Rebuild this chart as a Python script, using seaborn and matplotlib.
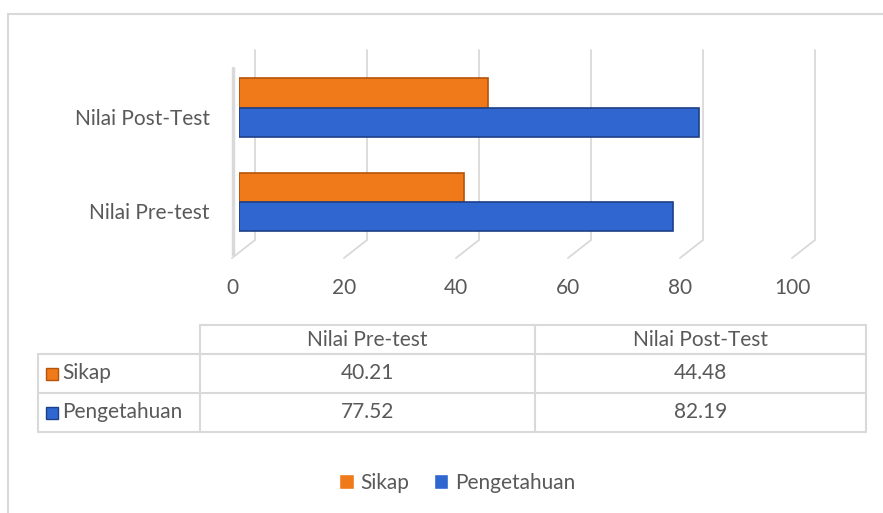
import numpy as np
import pandas as pd
import matplotlib
matplotlib.use('Agg')
import matplotlib.pyplot as plt
import seaborn as sns
from matplotlib.lines import Line2D
from matplotlib.transforms import ScaledTranslation

# data
kategori = ['Nilai Pre-test', 'Nilai Post-Test']
seri = ['Sikap', 'Pengetahuan']
sikap = [40.21, 44.48]
pengetahuan = [77.52, 82.19]
x_ticks = [0, 20, 40, 60, 80, 100]

warna = {'Sikap': '#F07A1A', 'Pengetahuan': '#2F66CF'}
tepi = {'Sikap': '#B4540C', 'Pengetahuan': '#1D3F88'}
abu = '#595959'
garis = '#D9D9D9'
fs = 15

df = pd.DataFrame({
    'kategori': kategori * 2,
    'seri': ['Sikap'] * 2 + ['Pengetahuan'] * 2,
    'nilai': sikap + pengetahuan,
})

sns.set_style('white')
plt.rcParams['font.family'] = ['Lato', 'DejaVu Sans']

W, H = 883, 513
fig = plt.figure(figsize=(W / 100, H / 100), dpi=100)

# chart area border (top and left only visible)
fig.add_artist(Line2D([8 / W, 8 / W], [0, 1 - 14 / H], color=garis, lw=1.5))
fig.add_artist(Line2D([8 / W, 1], [1 - 14 / H, 1 - 14 / H], color=garis, lw=1.5))

ax = fig.add_axes([239 / W, 1 - 240 / H, 560 / W, 190 / H])
ax.patch.set_alpha(0)
sns.barplot(data=df, y='kategori', x='nilai', hue='seri',
            order=kategori[::-1], hue_order=seri, saturation=1,
            palette=warna, orient='h', width=0.62, ax=ax, zorder=3)
for cont, s in zip(ax.containers, seri):
    for bar in cont:
        bar.set_edgecolor(tepi[s])
        bar.set_linewidth(1.2)

handles, labels = ax.get_legend_handles_labels()
ax.get_legend().remove()

ax.set_xlim(0, 100)
ax.set_ylim(1.40, -0.61)
ax.set_xticks(x_ticks)
ax.set_xlabel('')
ax.set_ylabel('')
for sp in ax.spines.values():
    sp.set_visible(False)
ax.tick_params(length=0, labelsize=fs, labelcolor=abu)
ax.tick_params(axis='x', pad=27)
ax.tick_params(axis='y', pad=21)
for lbl in ax.get_xticklabels():
    lbl.set_transform(lbl.get_transform() + ScaledTranslation(-7 / 100, 0, fig.dpi_scale_trans))
for lbl in ax.get_yticklabels():
    lbl.set_transform(lbl.get_transform() + ScaledTranslation(0, -9 / 100, fig.dpi_scale_trans))

# pseudo 3D gridlines: back wall verticals + floor diagonals (behind the bars)
fig.canvas.draw()
for t in x_ticks:
    bx, by = ax.transData.transform((t, 1.40))
    _, ty = ax.transData.transform((t, -0.61))
    fig.add_artist(Line2D([bx + 16, bx + 16], [by, ty], color=garis, lw=1.3,
                          transform=None, zorder=-1))
    fig.add_artist(Line2D([bx + 16, bx - 7], [by, by - 18], color=garis, lw=1.3,
                          transform=None, zorder=-1))
# left wall
fig.add_artist(Line2D([233 / W, 233 / W], [1 - 68 / H, 1 - 254 / H], color=garis, lw=2.5, zorder=-1))

# data table
tax = fig.add_axes([38 / W, 1 - 432 / H, 828 / W, 107 / H])
tax.set_xlim(0, 1)
tax.set_ylim(0, 1)
tax.axis('off')
col_x = [0, 162 / 828, 497 / 828, 1.0]
row_y = [1.0, 1 - 29 / 107, 1 - 68 / 107, 0.0]
lkw = dict(color=garis, lw=1.5, clip_on=False)
tax.plot([col_x[1], 1], [1, 1], **lkw)
for y in row_y[1:]:
    tax.plot([0, 1], [y, y], **lkw)
tax.plot([0, 0], [0, row_y[1]], **lkw)
for x in col_x[1:]:
    tax.plot([x, x], [0, 1], **lkw)

for j, k in enumerate(kategori):
    cx = (col_x[j + 1] + col_x[j + 2]) / 2
    tax.text(cx, (row_y[0] + row_y[1]) / 2, k, ha='center', va='center', fontsize=fs, color=abu)
rows = {'Sikap': sikap, 'Pengetahuan': pengetahuan}
for i, s in enumerate(seri):
    cy = (row_y[i + 1] + row_y[i + 2]) / 2
    tax.plot([14 / 828], [cy], marker='s', ms=8, color=warna[s], mec=tepi[s], clip_on=False)
    tax.text(24 / 828, cy, s, ha='left', va='center', fontsize=fs, color=abu)
    for j, v in enumerate(rows[s]):
        cx = (col_x[j + 1] + col_x[j + 2]) / 2
        tax.text(cx, cy, f'{v:.2f}', ha='center', va='center', fontsize=fs, color=abu)

# legend
fig.legend(handles, labels, loc='center', bbox_to_anchor=(457 / W, 1 - 483 / H),
           ncol=2, frameon=False, fontsize=fs, labelcolor=abu,
           handlelength=0.7, handleheight=0.7, handletextpad=0.3, columnspacing=1.2)

fig.savefig('out.png', dpi=100)
